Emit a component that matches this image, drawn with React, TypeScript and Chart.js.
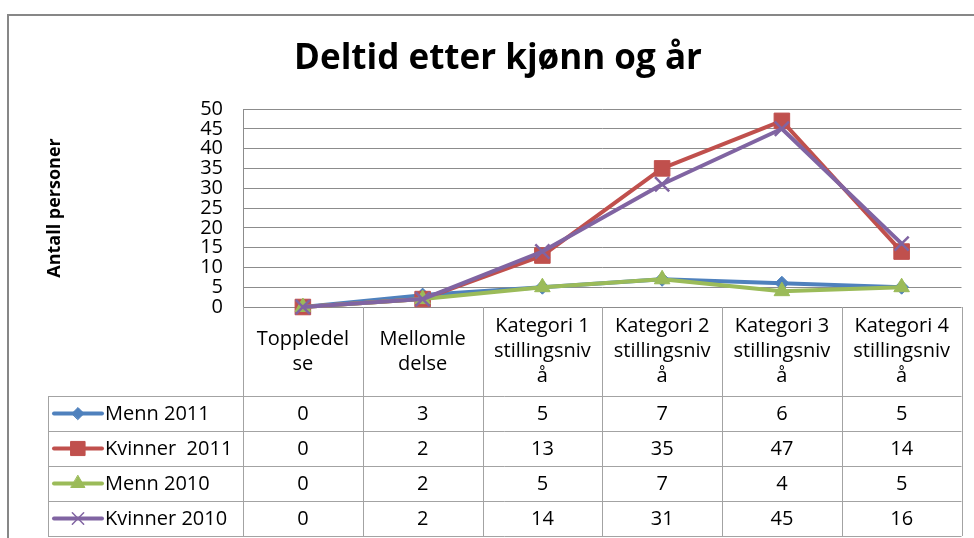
import React, { useEffect, useRef } from 'react';
import { Chart, registerables } from 'chart.js';
import * as helpers from 'chart.js/helpers';

Chart.register(...registerables);

const TITLE = 'Deltid etter kjønn og år';
const Y_TITLE = 'Antall personer';

const categories: string[][] = [
  ['Toppledel', 'se'],
  ['Mellomle', 'delse'],
  ['Kategori 1', 'stillingsniv', 'å'],
  ['Kategori 2', 'stillingsniv', 'å'],
  ['Kategori 3', 'stillingsniv', 'å'],
  ['Kategori 4', 'stillingsniv', 'å'],
];

const seriesNames = ['Menn 2011', 'Kvinner  2011', 'Menn 2010', 'Kvinner 2010'];
const menn2011 = [0, 3, 5, 7, 6, 5];
const kvinner2011 = [0, 2, 13, 35, 47, 14];
const menn2010 = [0, 2, 5, 7, 4, 5];
const kvinner2010 = [0, 2, 14, 31, 45, 16];

const Y_MIN = 0;
const Y_MAX = 50;
const Y_STEP = 5;

const colors = ['#4F81BD', '#C0504D', '#9BBB59', '#8064A2'];
const pointStyles = ['rectRot', 'rect', 'triangle', 'crossRot'];
const pointRadii = [7, 11, 9, 10];
const legendRadii = [6, 10, 8, 8];

const FONT = '"Open Sans", "Liberation Sans", sans-serif';

const tablePlugin = {
  id: 'excelTable',
  beforeDraw(chart: any) {
    const { ctx } = chart;
    ctx.save();
    ctx.strokeStyle = '#878787';
    ctx.lineWidth = 2;
    ctx.strokeRect(8, 15, 1100, 700);
    ctx.fillStyle = '#000';
    ctx.font = `bold 35px ${FONT}`;
    ctx.textAlign = 'center';
    ctx.textBaseline = 'alphabetic';
    ctx.fillText(TITLE, 498, 69);
    ctx.restore();
  },
  beforeDatasetsDraw(chart: any) {
    const { ctx, chartArea } = chart;
    const series = [menn2011, kvinner2011, menn2010, kvinner2010];
    const n = categories.length;
    const colW = (chartArea.right - chartArea.left) / n;
    const catTop = chartArea.bottom;
    const catBottom = catTop + 89;
    const rowH = 35;
    const rowsBottom = catBottom + rowH * series.length;
    const legendLeft = 48;
    const px = (v: number) => Math.round(v) + 0.5;

    ctx.save();
    ctx.strokeStyle = '#a3a3a3';
    ctx.lineWidth = 1;
    ctx.beginPath();
    for (let r = 0; r <= series.length; r++) {
      const y = px(catBottom + r * rowH);
      ctx.moveTo(legendLeft, y);
      ctx.lineTo(chartArea.right, y);
    }
    for (let i = 0; i <= n; i++) {
      const xx = px(chartArea.left + i * colW);
      ctx.moveTo(xx, catTop);
      ctx.lineTo(xx, rowsBottom);
    }
    ctx.moveTo(px(legendLeft), catBottom);
    ctx.lineTo(px(legendLeft), rowsBottom);
    ctx.stroke();

    ctx.fillStyle = '#000';
    ctx.font = `20px ${FONT}`;
    ctx.textAlign = 'center';
    ctx.textBaseline = 'middle';
    const xs = chart.scales.x;
    const lineH = 25;
    categories.forEach((lines, i) => {
      const cx = xs.getPixelForValue(i);
      const midY = (catTop + catBottom) / 2;
      const startY = midY - ((lines.length - 1) * lineH) / 2;
      lines.forEach((t, k) => ctx.fillText(t, cx, startY + k * lineH));
    });

    series.forEach((vals, r) => {
      const cy = catBottom + r * rowH + rowH / 2;
      ctx.textAlign = 'center';
      ctx.fillStyle = '#000';
      vals.forEach((v, i) => {
        ctx.fillText(String(v), xs.getPixelForValue(i), cy + 1);
      });
      ctx.strokeStyle = colors[r];
      ctx.lineWidth = 4;
      ctx.lineCap = 'round';
      ctx.beginPath();
      ctx.moveTo(54, cy);
      ctx.lineTo(102, cy);
      ctx.stroke();
      ctx.fillStyle = colors[r];
      ctx.lineWidth = pointStyles[r] === 'crossRot' ? 1.5 : 1;
      helpers.drawPoint(ctx, { pointStyle: pointStyles[r], radius: legendRadii[r], rotation: 0, borderWidth: ctx.lineWidth }, 78, cy);
      ctx.fillStyle = '#000';
      ctx.textAlign = 'left';
      ctx.fillText(seriesNames[r], 105, cy + 1);
    });
    ctx.restore();
  },
};

export default function App() {
  const ref = useRef<HTMLCanvasElement | null>(null);
  useEffect(() => {
    if (!ref.current) return;
    const series = [menn2011, kvinner2011, menn2010, kvinner2010];
    const chart = new Chart(ref.current, {
      type: 'line',
      data: {
        labels: categories.map((c) => c.join('')),
        datasets: series.map((vals, i) => ({
          label: seriesNames[i],
          data: vals,
          borderColor: colors[i],
          backgroundColor: colors[i],
          pointBackgroundColor: colors[i],
          pointBorderColor: colors[i],
          pointStyle: pointStyles[i] as any,
          pointRadius: pointRadii[i],
          pointBorderWidth: pointStyles[i] === 'crossRot' ? 2.5 : 1,
          borderWidth: 4,
          borderJoinStyle: 'round' as const,
          borderCapStyle: 'round' as const,
          tension: 0,
          fill: false,
          clip: false as any,
          order: series.length - i,
        })),
      },
      options: {
        animation: false,
        responsive: false,
        devicePixelRatio: 1,
        layout: { padding: { top: 109, bottom: 231, left: 0, right: 12 } },
        plugins: {
          legend: { display: false },
          title: { display: false },
          tooltip: { enabled: false },
        },
        scales: {
          x: {
            type: 'category',
            display: false,
            offset: true,
          },
          y: {
            min: Y_MIN,
            max: Y_MAX,
            ticks: {
              stepSize: Y_STEP,
              autoSkip: false,
              padding: 20,
              color: '#000',
              font: { family: FONT, size: 20, lineHeight: 1 },
            },
            grid: { color: '#8c8c8c', lineWidth: 1, drawTicks: false },
            border: { display: true, color: '#8c8c8c', width: 1 },
            title: {
              display: true,
              text: Y_TITLE,
              color: '#000',
              font: { family: FONT, size: 18, weight: 'bold' },
              padding: { top: 44, bottom: 0 },
            },
            afterFit: (scale: any) => {
              scale.width = 243;
            },
          },
        },
      },
      plugins: [tablePlugin],
    });
    return () => chart.destroy();
  }, []);
  return (
    <div style={{ position: 'fixed', left: 0, top: 0, width: 974, height: 538, background: '#fff' }}>
      <canvas ref={ref} width={974} height={538} />
    </div>
  );
}
